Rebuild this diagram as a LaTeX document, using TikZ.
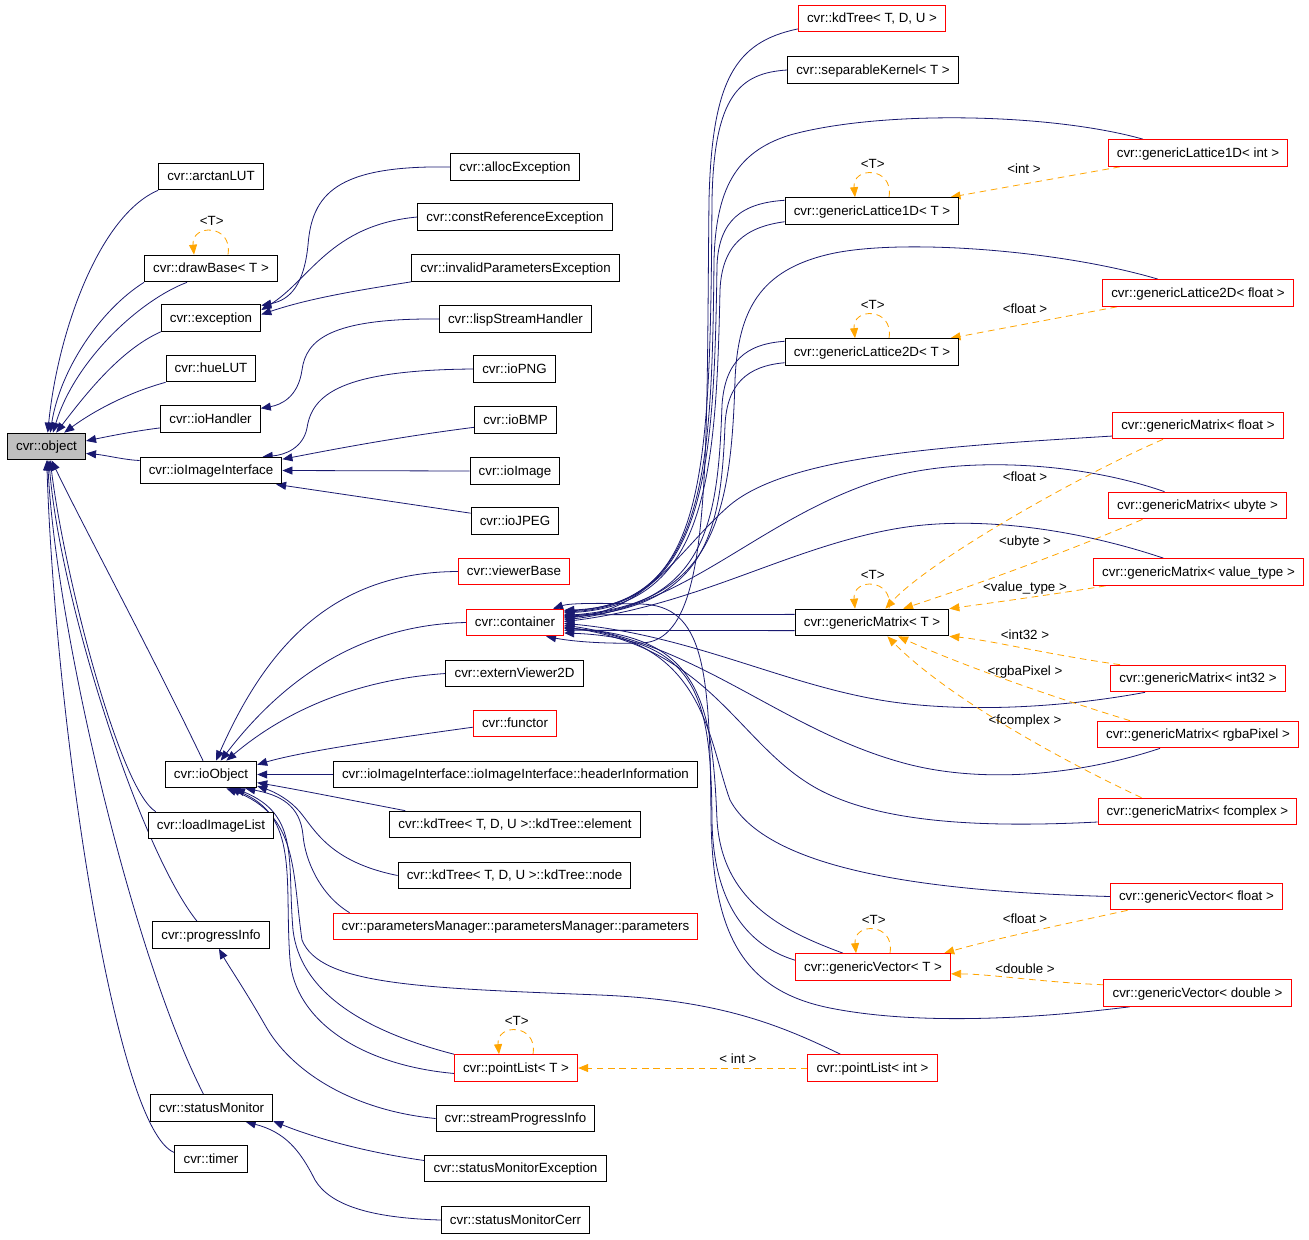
\documentclass[tikz,border=0pt]{standalone}
\usepackage{fontspec}
\setmainfont{Liberation Sans}
\usetikzlibrary{arrows.meta,calc}
\pgfdeclarelayer{background}
\pgfsetlayers{background,main}
\definecolor{dxNavy}{HTML}{191970}
\definecolor{dxOrange}{HTML}{FFA500}
\definecolor{dxRed}{HTML}{FF0000}
\definecolor{dxGray}{HTML}{BFBFBF}

\begin{document}
\begin{tikzpicture}[x=0.75pt,y=-0.75pt,
  cls/.style={draw=black,line width=0.75pt,fill=white,font=\fontsize{10}{12}\selectfont,
    inner xsep=6.5pt,inner ysep=0pt,minimum height=20pt,text height=8.5pt,text depth=2pt},
  ext/.style={cls,draw=dxRed},
  root/.style={cls,fill=dxGray},
  inh/.style={draw=dxNavy,line width=0.6pt,-{Triangle[length=7.5pt,width=6pt]}},
  tmpl/.style={draw=dxOrange,line width=0.6pt,dash pattern=on 5pt off 3.5pt,-{Triangle[length=7.5pt,width=6pt]}},
  tlbl/.style={font=\fontsize{10}{12}\selectfont,inner sep=0pt,text height=8.5pt,text depth=2pt}
]
\useasboundingbox (0,0) rectangle (1309,1239);

% left column
\node[root] (obj) at (46.5,446.5) {cvr::object};
\node[cls] (arctan) at (211,176.5) {cvr::arctanLUT};
\node[cls] (drawb) at (211,268.5) {cvr::drawBase< T >};
\node[cls] (exc) at (211,318) {cvr::exception};
\node[cls] (hue) at (211,368.5) {cvr::hueLUT};
\node[cls] (ioh) at (210.5,419) {cvr::ioHandler};
\node[cls] (ioii) at (211,470.5) {cvr::ioImageInterface};
\node[cls] (ioobj) at (211,774.5) {cvr::ioObject};
\node[cls] (loadil) at (211,825.5) {cvr::loadImageList};
\node[cls] (proginfo) at (211,935) {cvr::progressInfo};
\node[cls] (statmon) at (211.5,1108) {cvr::statusMonitor};
\node[cls] (timer) at (211,1159) {cvr::timer};

% middle column
\node[cls] (alloc) at (515,167) {cvr::allocException};
\node[cls] (constref) at (515,217) {cvr::constReferenceException};
\node[cls] (invpar) at (515.5,268) {cvr::invalidParametersException};
\node[cls] (lisp) at (515.5,319) {cvr::lispStreamHandler};
\node[cls] (png) at (514.5,369) {cvr::ioPNG};
\node[cls] (bmp) at (515.5,420) {cvr::ioBMP};
\node[cls] (ioimg) at (515,471) {cvr::ioImage};
\node[cls] (jpeg) at (515,521) {cvr::ioJPEG};
\node[ext] (viewer) at (514,571.5) {cvr::viewerBase};
\node[ext] (cont) at (515,622.5) {cvr::container};
\node[cls] (extv) at (514.5,673.5) {cvr::externViewer2D};
\node[ext] (functor) at (515,723.5) {cvr::functor};
\node[cls] (hdrinfo) at (515.5,774.5) {cvr::ioImageInterface::ioImageInterface::headerInformation};
\node[cls] (kdelem) at (515,824.5) {cvr::kdTree< T, D, U >::kdTree::element};
\node[cls] (kdnode) at (514.5,875.5) {cvr::kdTree< T, D, U >::kdTree::node};
\node[ext] (params) at (515.5,926.5) {cvr::parametersManager::parametersManager::parameters};
\node[ext] (plT) at (516,1068) {cvr::pointList< T >};
\node[cls] (streamprog) at (515.5,1118.5) {cvr::streamProgressInfo};
\node[cls] (smexc) at (515.5,1168.5) {cvr::statusMonitorException};
\node[cls] (smcerr) at (515.5,1220) {cvr::statusMonitorCerr};

% templates
\node[ext] (kdtree) at (872,18.5) {cvr::kdTree< T, D, U >};
\node[cls] (sepk) at (873,70) {cvr::separableKernel< T >};
\node[cls] (gl1T) at (872,211) {cvr::genericLattice1D< T >};
\node[cls] (gl2T) at (872,352) {cvr::genericLattice2D< T >};
\node[cls] (gmT) at (872,622.5) {cvr::genericMatrix< T >};
\node[ext] (gvT) at (873,967) {cvr::genericVector< T >};
\node[ext] (plint) at (872.5,1068) {cvr::pointList< int >};

% instances
\node[ext] (gl1int) at (1198,153) {cvr::genericLattice1D< int >};
\node[ext] (gl2flt) at (1198,293) {cvr::genericLattice2D< float >};
\node[ext] (gmflt) at (1198,425.5) {cvr::genericMatrix< float >};
\node[ext] (gmubyte) at (1197.5,505.5) {cvr::genericMatrix< ubyte >};
\node[ext] (gmvt) at (1198.5,572) {cvr::genericMatrix< value\_type >};
\node[ext] (gmint32) at (1198,678.5) {cvr::genericMatrix< int32 >};
\node[ext] (gmrgba) at (1198,734.5) {cvr::genericMatrix< rgbaPixel >};
\node[ext] (gmfcx) at (1197.5,811.5) {cvr::genericMatrix< fcomplex >};
\node[ext] (gvflt) at (1196.5,896.5) {cvr::genericVector< float >};
\node[ext] (gvdbl) at (1197.5,993) {cvr::genericVector< double >};

% instance labels
\node[tlbl] (l-gl1) at (1024,169) {<int >};
\node[tlbl] (l-gl2) at (1025,309) {<float >};
\node[tlbl] (l-gmflt) at (1025,477) {<float >};
\node[tlbl] (l-gmub) at (1025,541) {<ubyte >};
\node[tlbl] (l-gmvt) at (1025,587) {<value\_type >};
\node[tlbl] (l-gmi32) at (1025,635) {<int32 >};
\node[tlbl] (l-gmrgba) at (1025,671) {<rgbaPixel >};
\node[tlbl] (l-gmfcx) at (1025,720) {<fcomplex >};
\node[tlbl] (l-gvflt) at (1025,919) {<float >};
\node[tlbl] (l-gvdbl) at (1025,969) {<double >};
\node[tlbl] (l-pl) at (738,1059) {< int >};

\begin{pgfonlayer}{background}
\fill[white] (0,0) rectangle (1309,1239);
% to cvr::object
\draw[inh] (arctan.south west) .. controls (100,215) and (58,330) .. (obj.85);
\draw[inh] (drawb.south west) .. controls (100,310) and (60,370) .. (obj.75);
\draw[inh] ($(drawb.south)+(-24,0)$) .. controls (140,300) and (75,360) .. (obj.65);
\draw[inh] (exc.south west) .. controls (120,350) and (85,395) .. (obj.55);
\draw[inh] (hue.south west) .. controls (130,392) and (95,410) .. (obj.38);
\draw[inh] (ioh.-170) .. controls (135,431) and (110,436) .. (obj.8);
\draw[inh] (ioii.172) .. controls (125,460) and (105,455) .. (obj.-10);
\draw[inh] (ioobj.120) .. controls (150,650) and (80,520) .. (obj.-70);
\draw[inh] ($(loadil.north west)+(8,0)$) .. controls (120,790) and (65,580) .. (obj.-75);
\draw[inh] ($(proginfo.north)+(-14,0)$) .. controls (140,850) and (60,600) .. (obj.-80);
\draw[inh] ($(statmon.north)+(-8,0)$) .. controls (130,950) and (55,620) .. (obj.-85);
\draw[inh] (timer.170) .. controls (115,1130) and (55,720) .. (obj.-89);

% exception, ioHandler, ioImageInterface
\draw[inh] (alloc.west) .. controls (335,165) and (312,195) .. (308,245) .. controls (304,285) and (290,300) .. (exc.14);
\draw[inh] (constref.west) .. controls (330,225) and (310,280) .. (exc.9);
\draw[inh] (invpar.south west) .. controls (360,290) and (310,298) .. (exc.4);
\draw[inh] (lisp.west) .. controls (330,318) and (306,340) .. (302,370) .. controls (298,398) and (280,405) .. (ioh.12);
\draw[inh] (png.west) .. controls (340,370) and (312,395) .. (307,428) .. controls (303,448) and (285,455) .. (ioii.15);
\draw[inh] (bmp.-170) .. controls (390,438) and (320,452) .. (ioii.9);
\draw[inh] (ioimg.west) -- (ioii.east);
\draw[inh] (jpeg.170) -- (ioii.-12);

% ioObject
\draw[inh] (viewer.west) .. controls (330,572) and (265,650) .. (ioobj.70);
\draw[inh] (cont.west) .. controls (350,625) and (275,690) .. (ioobj.55);
\draw[inh] (extv.west) .. controls (350,680) and (280,715) .. (ioobj.42);
\draw[inh] (functor.-175) .. controls (380,740) and (300,752) .. (ioobj.12);
\draw[inh] (hdrinfo.west) -- (ioobj.east);
\draw[inh] ($(kdelem.north west)+(16,0)$) .. controls (350,800) and (300,790) .. (ioobj.-10);
\draw[inh] (kdnode.west) .. controls (330,862) and (315,830) .. (300,812) .. controls (290,800) and (275,792) .. (ioobj.-14);
\draw[inh] ($(params.north west)+(17,0)$) .. controls (320,895) and (305,860) .. (303,835) .. controls (300,805) and (280,795) .. (ioobj.-22);
\draw[inh] (plT.north west) .. controls (360,1030) and (300,990) .. (293,930) .. controls (287,860) and (300,815) .. (ioobj.-30);
\draw[inh] (plT.-175) .. controls (360,1065) and (295,1020) .. (290,960) .. controls (284,880) and (300,815) .. (ioobj.-36);
\draw[inh] ($(plint.north west)+(33,0)$) .. controls (780,1025) and (720,1000) .. (600,995)
  .. controls (420,988) and (320,985) .. (302,940) .. controls (292,870) and (298,815) .. (ioobj.-42);

% progressInfo, statusMonitor
\draw[inh] (streamprog.west) .. controls (350,1110) and (290,1070) .. (265,1025) .. controls (245,990) and (228,965) .. (proginfo.-60);
\draw[inh] (smexc.175) .. controls (350,1150) and (300,1132) .. (statmon.-12);
\draw[inh] (smcerr.west) .. controls (370,1218) and (330,1205) .. (315,1180) .. controls (300,1150) and (285,1132) .. (statmon.-22);

% container, from above
\draw[inh] (kdtree.-172) .. controls (735,42) and (712,80) .. (709,200) .. controls (706,480) and (712,643) .. (640,643) .. controls (600,644) and (570,641) .. (cont.-24);
\draw[inh] (sepk.west) .. controls (740,73) and (714,95) .. (712,200) .. controls (710,470) and (708,605) .. (cont.14);
\draw[inh] ($(gl1int.north)+(-55,0)$) .. controls (1050,113) and (880,110) .. (790,135) .. controls (735,152) and (716,190) .. (714,260) .. controls (712,470) and (706,603) .. (cont.13);
\draw[inh] (gl1T.173) .. controls (742,203) and (719,220) .. (717,265) .. controls (714,470) and (706,604) .. (cont.12);
\draw[inh] (gl1T.-173) .. controls (745,227) and (722,245) .. (720,290) .. controls (716,480) and (706,605) .. (cont.11);
\draw[inh] ($(gl2flt.north)+(-40,0)$) .. controls (1060,250) and (900,238) .. (830,254) .. controls (760,270) and (738,310) .. (735,380) .. controls (731,520) and (712,604) .. (cont.8);
\draw[inh] (gl2T.173) .. controls (745,344) and (725,362) .. (722,405) .. controls (718,520) and (708,606) .. (cont.7);
\draw[inh] (gl2T.-173) .. controls (747,366) and (727,384) .. (725,425) .. controls (721,530) and (708,607) .. (cont.6);
\draw[inh] (gmflt.-173) .. controls (950,446) and (790,455) .. (730,505) .. controls (680,548) and (650,610) .. (cont.5);
\draw[inh] ($(gmubyte.north)+(-33,0)$) .. controls (1080,462) and (960,455) .. (880,480) .. controls (760,518) and (690,605) .. (cont.3);
\draw[inh] ($(gmvt.north)+(-35,0)$) .. controls (1080,530) and (980,515) .. (900,528) .. controls (790,546) and (700,605) .. (cont.1);
\draw[inh] (gmT.174) -- (cont.9);
\draw[inh] (gmT.-174) -- (cont.-9);

% container, from below
\draw[inh] ($(gmint32.south)+(-53,0)$) .. controls (1050,710) and (950,712) .. (880,700) .. controls (780,683) and (690,635) .. (cont.-1);
\draw[inh] ($(gmrgba.south)+(-38,0)$) .. controls (1080,775) and (980,785) .. (900,762) .. controls (780,728) and (700,645) .. (cont.-3);
\draw[inh] (gmfcx.-174) .. controls (980,828) and (890,822) .. (830,795) .. controls (740,755) and (720,650) .. (cont.-5);
\draw[inh] (gvflt.west) .. controls (950,892) and (770,875) .. (730,800) .. controls (708,740) and (705,640) .. (cont.-6);
\draw[inh] ($(gvT.north)+(-30,0)$) .. controls (780,930) and (722,900) .. (717,820) .. controls (712,700) and (700,635) .. (cont.-7);
\draw[inh] (gvT.175) .. controls (745,945) and (713,900) .. (712,820) .. controls (711,700) and (700,638) .. (cont.-12);
\draw[inh] ($(gvdbl.south)+(-68,0)$) .. controls (1040,1018) and (920,1026) .. (830,1008) .. controls (740,990) and (713,930) .. (711,820)
  .. controls (710,670) and (705,605) .. (640,604) .. controls (600,603) and (570,603) .. (cont.20);

% template instances
\draw[tmpl] ($(gl1int.south)+(-78,0)$) -- (gl1T.10);
\draw[tmpl] ($(gl2flt.south)+(-81,0)$) -- (gl2T.10);
\draw[tmpl] ($(gmflt.south)+(-35,0)$) .. controls (1080,475) and (930,560) .. (gmT.46);
\draw[tmpl] ($(gmubyte.south)+(-55,0)$) .. controls (1060,555) and (960,590) .. (gmT.24);
\draw[tmpl] ($(gmvt.south)+(-93,0)$) .. controls (1050,595) and (990,603) .. (gmT.north east);
\draw[tmpl] ($(gmint32.north)+(-78,0)$) .. controls (1050,655) and (990,640) .. (gmT.south east);
\draw[tmpl] ($(gmrgba.north)+(-68,0)$) .. controls (1030,690) and (950,660) .. (gmT.-28);
\draw[tmpl] ($(gmfcx.north)+(-56,0)$) .. controls (1040,750) and (940,690) .. (gmT.-42);
\draw[tmpl] ($(gvflt.south)+(-69,0)$) .. controls (1060,925) and (990,940) .. (gvT.11);
\draw[tmpl] (gvdbl.175) .. controls (1040,982) and (990,974) .. (gvT.-5);
\draw[tmpl] (plint.west) -- (plT.east);

% self loops
\foreach \n in {drawb,gl1T,gl2T,gmT,gvT,plT}
  \draw[tmpl] ($(\n.north)+(17,0)$) .. controls ($(\n.north)+(22,-31)$) and ($(\n.north)+(-20,-31)$) .. ($(\n.north)+(-17,0)$)
    node[tlbl,pos=0.5,above=2pt] (T-\n) {<T>};
\end{pgfonlayer}
\end{tikzpicture}
\end{document}
